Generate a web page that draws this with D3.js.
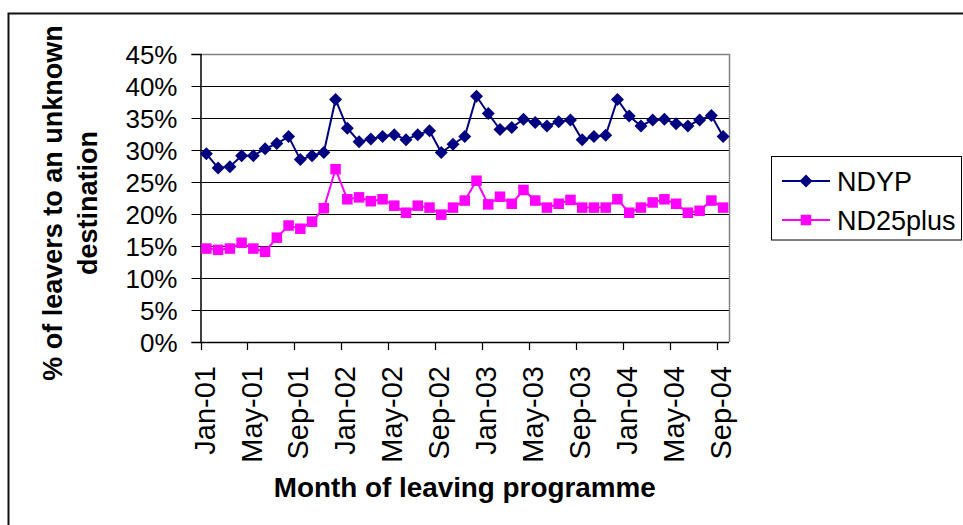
<!DOCTYPE html>
<html>
<head>
<meta charset="utf-8">
<script src="https://cdn.jsdelivr.net/npm/d3@7"></script>
<style>
  html, body { margin: 0; padding: 0; background: #fff; }
  svg { display: block; font-family: Arial, "Liberation Sans", sans-serif; }
</style>
</head>
<body>
<svg id="chart" width="963" height="525"></svg>
<script>
const months = ["Jan-01","Feb-01","Mar-01","Apr-01","May-01","Jun-01","Jul-01","Aug-01","Sep-01","Oct-01","Nov-01","Dec-01",
  "Jan-02","Feb-02","Mar-02","Apr-02","May-02","Jun-02","Jul-02","Aug-02","Sep-02","Oct-02","Nov-02","Dec-02",
  "Jan-03","Feb-03","Mar-03","Apr-03","May-03","Jun-03","Jul-03","Aug-03","Sep-03","Oct-03","Nov-03","Dec-03",
  "Jan-04","Feb-04","Mar-04","Apr-04","May-04","Jun-04","Jul-04","Aug-04","Sep-04"];
const ndyp = [29.4,27.2,27.4,29.1,29.1,30.2,31.0,32.1,28.5,29.1,
  29.6,37.9,33.4,31.3,31.7,32.1,32.4,31.6,32.4,33.0,
  29.6,30.9,32.1,38.4,35.7,33.2,33.5,34.8,34.3,33.75,
  34.4,34.7,31.6,32.1,32.3,37.9,35.3,33.75,34.7,34.8,
  34.1,33.75,34.7,35.4,32.1];
const nd25plus = [14.6,14.4,14.6,15.5,14.6,14.1,16.3,18.2,17.7,18.8,
  20.9,27.0,22.3,22.6,22.0,22.3,21.3,20.2,21.3,21.0,
  19.9,21.0,22.1,25.2,21.5,22.7,21.6,23.75,22.1,21.0,
  21.6,22.2,21.0,21.0,21.0,22.3,20.2,21.0,21.8,22.3,
  21.6,20.2,20.5,22.1,21.0];
const yTicks = [0,5,10,15,20,25,30,35,40,45];
const seriesNames = ["NDYP","ND25plus"];
const xTitle = "Month of leaving programme";
const yTitleLines = ["% of leavers to an unknown","destination"];

const svg = d3.select("#chart");
const L = 200.5, R = 729, T = 54, B = 342;

// outer chart border
svg.append("rect").attr("x", 8.5).attr("y", 13.5).attr("width", 1000).attr("height", 600)
  .attr("fill", "none").attr("stroke", "#111").attr("stroke-width", 2);

const x = d3.scaleBand().domain(months).range([L, R]).paddingInner(0).paddingOuter(0);
const y = d3.scaleLinear().domain([0, 45]).range([B, T]);
const cx = m => x(m) + x.bandwidth() / 2;

// gridlines
svg.append("g").selectAll("line").data(yTicks.filter(t => t > 0 && t < 45)).join("line")
  .attr("x1", L).attr("x2", R).attr("y1", d => Math.round(y(d)) + 0.5).attr("y2", d => Math.round(y(d)) + 0.5)
  .attr("stroke", "#000").attr("stroke-width", 1);

// plot area border (top/right gray)
svg.append("path").attr("d", `M${L},${T + 0.5}H${R + 0.5}V${B}`)
  .attr("fill", "none").attr("stroke", "#808080").attr("stroke-width", 1.5);

// y axis
const yAxis = d3.axisLeft(y).tickValues(yTicks).tickSize(9).tickPadding(14).tickFormat(d => d + "%");
const gy = svg.append("g").attr("transform", `translate(${L},0)`).call(yAxis);
gy.select(".domain").attr("stroke", "#000").attr("stroke-width", 1.5);
gy.selectAll(".tick line").attr("stroke", "#000");
gy.selectAll(".tick text").attr("font-size", 26).attr("fill", "#000")
  .attr("font-family", "Arial, 'Liberation Sans', sans-serif").attr("dy", "0.35em");

// x axis: ticks at category boundaries every 4 months
const boundaryTicks = months.filter((m, i) => i % 4 === 0);
const gx = svg.append("g");
gx.append("line").attr("x1", L).attr("x2", R).attr("y1", B + 0.5).attr("y2", B + 0.5)
  .attr("stroke", "#000").attr("stroke-width", 1.5);
gx.selectAll("line.tk").data(boundaryTicks).join("line").attr("class", "tk")
  .attr("x1", d => Math.round(x(d)) + 0.5).attr("x2", d => Math.round(x(d)) + 0.5)
  .attr("y1", B).attr("y2", B + 8).attr("stroke", "#000").attr("stroke-width", 1.2);
gx.selectAll("text").data(boundaryTicks).join("text")
  .attr("transform", d => `translate(${cx(d) - 2},${366}) rotate(-90)`)
  .attr("text-anchor", "end").attr("dy", "0.35em")
  .attr("font-size", 29).attr("fill", "#000").text(d => d);

// lines
const line = d3.line().x((d, i) => cx(months[i])).y(d => y(d));
svg.append("path").datum(ndyp).attr("d", line).attr("fill", "none")
  .attr("stroke", "#000080").attr("stroke-width", 2);
svg.append("path").datum(nd25plus).attr("d", line).attr("fill", "none")
  .attr("stroke", "#FF00FF").attr("stroke-width", 2);

// markers
const dm = 6.5;
svg.append("g").selectAll("path").data(ndyp).join("path")
  .attr("d", (d, i) => {
    const px = cx(months[i]), py = y(d);
    return `M${px},${py - dm}L${px + dm},${py}L${px},${py + dm}L${px - dm},${py}Z`;
  }).attr("fill", "#000080");
const sq = 10.5;
svg.append("g").selectAll("rect").data(nd25plus).join("rect")
  .attr("x", (d, i) => cx(months[i]) - sq / 2).attr("y", d => y(d) - sq / 2)
  .attr("width", sq).attr("height", sq).attr("fill", "#FF00FF");

// axis titles
svg.append("text").attr("x", (L + R) / 2).attr("y", 497).attr("text-anchor", "middle")
  .attr("font-size", 27).attr("font-weight", "bold").attr("fill", "#000")
  .attr("textLength", 382).attr("lengthAdjust", "spacingAndGlyphs").text(xTitle);
const yt = svg.append("g").attr("transform", "translate(0,203) rotate(-90)");
yt.selectAll("text").data(yTitleLines).join("text")
  .attr("x", 0).attr("y", (d, i) => i === 0 ? 62 : 97).attr("text-anchor", "middle")
  .attr("font-size", 27).attr("font-weight", "bold").attr("fill", "#000").text(d => d);

// legend
const lg = svg.append("g");
lg.append("rect").attr("x", 771.5).attr("y", 156.5).attr("width", 190).attr("height", 83.5)
  .attr("fill", "#fff").attr("stroke", "#000").attr("stroke-width", 1);
const legendColors = ["#000080", "#FF00FF"];
seriesNames.forEach((name, i) => {
  const ly = 181 + i * 39;
  lg.append("line").attr("x1", 782).attr("x2", 830).attr("y1", ly).attr("y2", ly)
    .attr("stroke", legendColors[i]).attr("stroke-width", 2);
  if (i === 0) {
    lg.append("path").attr("d", `M806,${ly - dm}L${806 + dm},${ly}L806,${ly + dm}L${806 - dm},${ly}Z`)
      .attr("fill", legendColors[i]);
  } else {
    lg.append("rect").attr("x", 806 - sq / 2).attr("y", ly - sq / 2).attr("width", sq).attr("height", sq)
      .attr("fill", legendColors[i]);
  }
  lg.append("text").attr("x", 837).attr("y", ly + 9.5).attr("font-size", 27).attr("fill", "#000").text(name);
});
</script>
</body>
</html>
